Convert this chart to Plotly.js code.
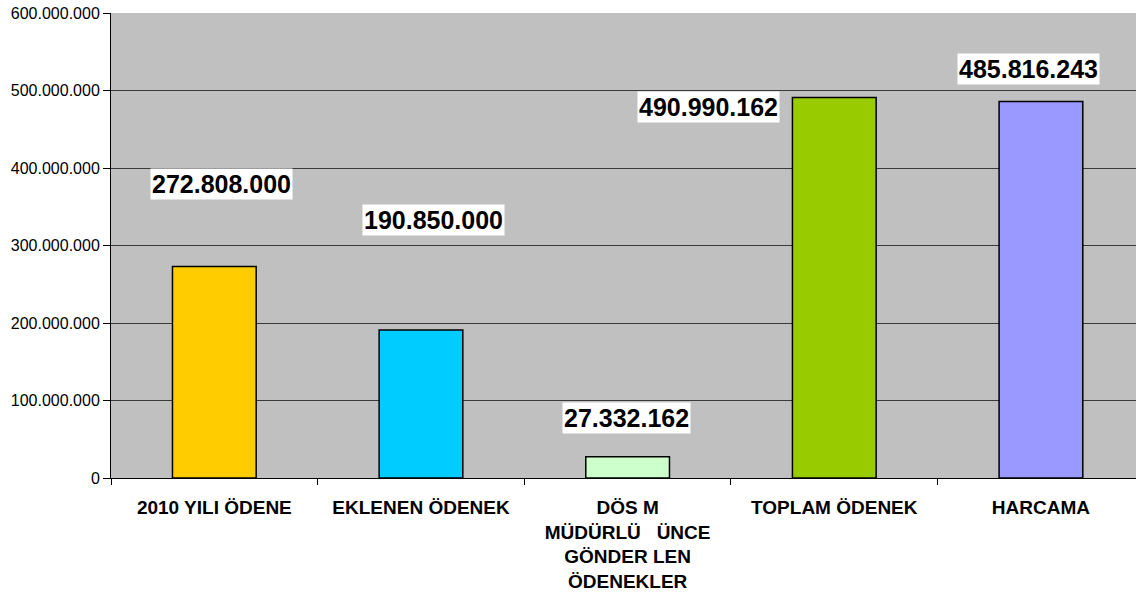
<!DOCTYPE html>
<html>
<head>
<meta charset="utf-8">
<script src="https://cdn.plot.ly/plotly-3.0.1.min.js"></script>
<style>
  html, body { margin: 0; padding: 0; background: #ffffff; }
  #chart { width: 1137px; height: 597px; }
</style>
</head>
<body>
<div id="chart"></div>
<script>
// ---- data ----
var categories = [
  "2010 YILI ÖDENE",
  "EKLENEN ÖDENEK",
  "DÖS M<br>MÜDÜRLÜ\u00A0\u00A0\u00A0ÜNCE<br>GÖNDER LEN<br>ÖDENEKLER",
  "TOPLAM ÖDENEK",
  "HARCAMA"
];
var values = [272808000, 190850000, 27332162, 490990162, 485816243];
var valueLabels = ["272.808.000", "190.850.000", "27.332.162", "490.990.162", "485.816.243"];
var barColors = ["#FFCC00", "#00CCFF", "#CCFFCC", "#99CC00", "#9999FF"];
var yTickValues = [0, 100000000, 200000000, 300000000, 400000000, 500000000, 600000000];

// ---- label placement (pixel offsets from bar tops) ----
var labelDx = [7, 13, -1, -126, -12];
var labelDy = [83, 110, 39, -10, 32];

var font = "Liberation Sans, Arial, Helvetica, sans-serif";

var trace = {
  type: "bar",
  x: categories,
  y: values,
  marker: { color: barColors, line: { color: "#000000", width: 1.5 } },
  hoverinfo: "none"
};

var annotations = categories.map(function (c, i) {
  return {
    x: c, y: values[i], xref: "x", yref: "y",
    text: "<b>" + valueLabels[i] + "</b>",
    showarrow: false,
    xanchor: "center", yanchor: "middle",
    xshift: labelDx[i], yshift: labelDy[i],
    bgcolor: "#ffffff", borderpad: 1,
    font: { family: font, size: 25, color: "#000000" }
  };
});

var layout = {
  width: 1137, height: 597,
  margin: { l: 111, r: 1, t: 13, b: 119, pad: 0 },
  paper_bgcolor: "#ffffff",
  plot_bgcolor: "#C0C0C0",
  bargap: 0.595,
  separators: ",.",
  showlegend: false,
  xaxis: {
    type: "category",
    range: [-0.5, 4.46],
    tickson: "boundaries",
    ticks: "outside", ticklen: 6, tickcolor: "#000000", tickwidth: 1,
    showline: true, linecolor: "#000000", linewidth: 1,
    showgrid: false, zeroline: false,
    ticklabelstandoff: 12,
    tickfont: { family: font, size: 19, color: "#000000", weight: "bold" },
    tickangle: 0,
    fixedrange: true
  },
  yaxis: {
    range: [0, 600000000],
    tickvals: yTickValues,
    tickformat: ",d",
    ticks: "outside", ticklen: 7, tickcolor: "#000000", tickwidth: 1,
    showline: true, linecolor: "#000000", linewidth: 1,
    showgrid: true, gridcolor: "#3a3a3a", gridwidth: 1,
    zeroline: false,
    tickfont: { family: font, size: 16, color: "#000000" },
    fixedrange: true
  },
  annotations: annotations
};

Plotly.newPlot("chart", [trace], layout, { staticPlot: true, displayModeBar: false });
</script>
</body>
</html>
